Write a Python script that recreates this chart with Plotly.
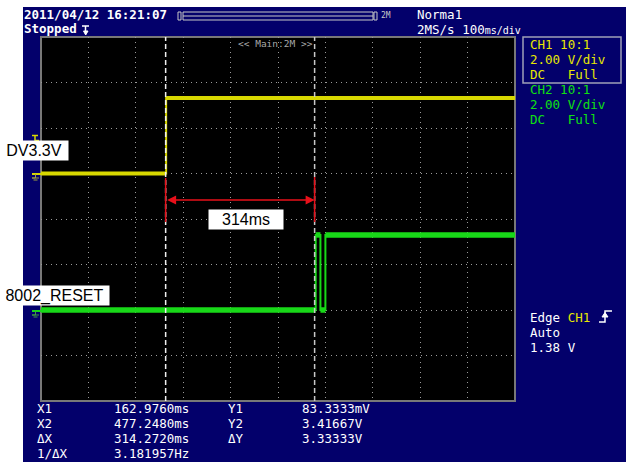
import plotly.graph_objects as go

# canvas / screen geometry (pixels)
W, H = 626, 464
L, R, T, B = 41, 515, 37, 401

MONO = "DejaVu Sans Mono"
BLUE = "#03006b"
YEL_TXT = "#e8e800"
GRN_TXT = "#10e010"
YEL = "#d8d800"
GRN = "#18d818"
RED = "#e8101a"
NB = "\u00a0"

# waveforms (time in ms, level in V)
ch1_t = [-100, 164, 164, 900]
ch1_v = [0.0, 0.0, 3.32, 3.32]
ch2_t = [-100, 479.5, 479.5, 489.5, 489.5, 500, 500, 900]
ch2_v = [0.0, 0.0, 3.3, 3.3, 0.0, 0.0, 3.3, 3.3]

x1_ms = 162.976
x2_ms = 477.248

cursor_labels = ["X1", "X2", "ΔX", "1/ΔX"]
cursor_values = ["162.9760ms", "477.2480ms", "314.2720ms", "3.181957Hz"]
y_labels = ["Y1", "Y2", "ΔY"]
y_values = ["83.3333mV", "3.41667V", "3.33333V"]

ch1_info = ["CH1 10:1", "2.00 V/div", "DC" + NB * 3 + "Full"]
ch2_info = ["CH2 10:1", "2.00 V/div", "DC" + NB * 3 + "Full"]
trig_info = ["Edge <span style='color:%s'>CH1</span>" % YEL_TXT, "Auto", "1.38 V"]


def px(x):
    return (x - L) / (R - L)


def py(y):
    return (B - y) / (B - T)


def path(points, close=False):
    s = "M" + " L".join("%.5f,%.5f" % (px(a), py(b)) for a, b in points)
    return s + (" Z" if close else "")


def txt(x, y, s, color="white", size=12.5, family=MONO, anchor="left"):
    return dict(x=px(x), y=py(y), xref="paper", yref="paper", text=s,
                showarrow=False, xanchor=anchor, yanchor="middle", borderpad=0,
                font=dict(family=family, size=size, color=color))


def levels(t, v):
    # keep only the flat parts of a waveform (thick noise band), break at edges
    xs, ys = [], []
    for i in range(len(t) - 1):
        if t[i] != t[i + 1]:
            xs += [t[i], t[i + 1], None]
            ys += [v[i], v[i + 1], None]
    return xs, ys


fig = go.Figure()
for t, v, col, w, ax in [(ch1_t, ch1_v, YEL, 4, "y"), (ch2_t, ch2_v, GRN, 5.5, "y2")]:
    lx, ly = levels(t, v)
    fig.add_trace(go.Scatter(x=lx, y=ly, mode="lines", line=dict(color=col, width=w),
                             yaxis=ax, hoverinfo="skip", showlegend=False))
    fig.add_trace(go.Scatter(x=t, y=v, mode="lines", line=dict(color=col, width=2),
                             yaxis=ax, hoverinfo="skip", showlegend=False))

shapes = [
    # blue screen and black grid area
    dict(type="rect", xref="paper", yref="paper", x0=px(23), x1=px(W + 2), y0=py(7), y1=py(462),
         fillcolor=BLUE, line=dict(width=0), layer="below"),
    dict(type="rect", xref="paper", yref="paper", x0=0, x1=1, y0=0, y1=1,
         fillcolor="black", line=dict(color="#787878", width=2), layer="below"),
    # record length bar
    dict(type="rect", xref="paper", yref="paper", x0=px(183), x1=px(373), y0=py(12), y1=py(20),
         line=dict(color="#c8c8c8", width=1)),
    dict(type="line", xref="paper", yref="paper", x0=px(183), x1=px(373), y0=py(16), y1=py(16),
         line=dict(color="#c8c8c8", width=1)),
    dict(type="rect", xref="paper", yref="paper", x0=px(178), x1=px(181), y0=py(12), y1=py(20),
         line=dict(color="#c8c8c8", width=1)),
    dict(type="rect", xref="paper", yref="paper", x0=px(374), x1=px(377), y0=py(12), y1=py(20),
         line=dict(color="#c8c8c8", width=1)),
    # "stopped" trigger glyph
    dict(type="path", xref="paper", yref="paper", path=path([(82, 26), (89, 26)]),
         line=dict(color="white", width=1.5)),
    dict(type="path", xref="paper", yref="paper", path=path([(85.5, 26), (85.5, 32)]),
         line=dict(color="white", width=1.5)),
    dict(type="path", xref="paper", yref="paper", path=path([(83.5, 31), (88, 31), (85.7, 35)], True),
         fillcolor="white", line=dict(color="white", width=1)),
    # channel info box
    dict(type="rect", xref="paper", yref="paper", x0=px(523), x1=px(621), y0=py(37), y1=py(83),
         line=dict(color="#a0a0b8", width=1.5)),
    # trigger edge glyph
    dict(type="path", xref="paper", yref="paper", path=path([(599, 322), (605, 322), (605, 311), (612, 311)]),
         line=dict(color="white", width=1.5)),
    dict(type="path", xref="paper", yref="paper", path=path([(602, 317), (605, 312.5), (608, 317)], True),
         fillcolor="white", line=dict(color="white", width=1)),
    # ground markers and trigger level marker
    dict(type="path", xref="paper", yref="paper", path=path([(32, 174), (41, 174)]),
         line=dict(color=YEL, width=2)),
    dict(type="path", xref="paper", yref="paper", path=path([(35.5, 174), (35.5, 178), (32, 178), (39, 178)]),
         line=dict(color="#a0a040", width=1)),
    dict(type="path", xref="paper", yref="paper", path=path([(33.5, 180), (37.5, 180)]),
         line=dict(color="#a0a040", width=1)),
    dict(type="path", xref="paper", yref="paper", path=path([(32, 135.5), (38, 135.5)]),
         line=dict(color=YEL, width=1.5)),
    dict(type="path", xref="paper", yref="paper", path=path([(35, 135.5), (35, 140.5), (39, 140.5)]),
         line=dict(color=YEL, width=1.5)),
    dict(type="path", xref="paper", yref="paper", path=path([(32, 311), (41, 311)]),
         line=dict(color=GRN, width=2)),
    dict(type="path", xref="paper", yref="paper", path=path([(35.5, 311), (35.5, 315), (32, 315), (39, 315)]),
         line=dict(color="#40a040", width=1)),
    dict(type="path", xref="paper", yref="paper", path=path([(33.5, 317), (37.5, 317)]),
         line=dict(color="#40a040", width=1)),
    # cursors
    dict(type="line", xref="x", yref="paper", x0=x1_ms, x1=x1_ms, y0=0, y1=1,
         line=dict(color="#f0f0f0", width=1.5, dash="5px,3px"), layer="above"),
    dict(type="line", xref="x", yref="paper", x0=x2_ms, x1=x2_ms, y0=0, y1=1,
         line=dict(color="#c8c8c8", width=1.5, dash="5px,3px"), layer="above"),
    # red measurement overlay
    dict(type="line", xref="x", yref="paper", x0=x1_ms, x1=x1_ms, y0=py(178), y1=py(222),
         line=dict(color=RED, width=1.5), layer="above"),
    dict(type="line", xref="x", yref="paper", x0=x2_ms, x1=x2_ms, y0=py(177), y1=py(222),
         line=dict(color=RED, width=1.5), layer="above"),
]

ann = [
    txt(23, 14.5, "<b>2011/04/12 16:21:07</b>"),
    txt(23, 28, "<b>Stopped</b>"),
    txt(380, 15.5, "2M", color="#c8c8c8", size=8),
    txt(416, 14, "Norma1"),
    txt(416, 29, "2MS/s 100<span style='font-size:10px'>ms/div</span>"),
    txt(237, 43.5, "&lt;&lt; Main:2M &gt;&gt;", color="#a8a8a8", size=9.5),
]
for i, s in enumerate(ch1_info):
    ann.append(txt(529, 44 + 15 * i, s, color=YEL_TXT))
for i, s in enumerate(ch2_info):
    ann.append(txt(529, 89.3 + 15 * i, s, color=GRN_TXT))
for i, s in enumerate(trig_info):
    ann.append(txt(529, 317 + 15 * i, s))
for i, (a, b) in enumerate(zip(cursor_labels, cursor_values)):
    ann.append(txt(36, 408.3 + 15 * i, a))
    ann.append(txt(113, 408.3 + 15 * i, b))
for i, (a, b) in enumerate(zip(y_labels, y_values)):
    ann.append(txt(227, 408.3 + 15 * i, a))
    ann.append(txt(301, 408.3 + 15 * i, b))

# double-headed red arrow between the cursors
ann.append(dict(x=x2_ms, y=py(200), xref="x", yref="paper", ax=x1_ms, ay=0, axref="x", ayref="pixel",
                text="", showarrow=True, arrowhead=2, startarrowhead=2, arrowside="end+start",
                arrowsize=1.2, startarrowsize=1.2, arrowwidth=1.5, arrowcolor=RED))
# labels pasted on the screenshot
for cx, cy, w, s in [(246, 219.5, 74, "314ms"), (34, 150, 68, "DV3.3V"), (54.5, 295, 109, "8002_RESET")]:
    ann.append(dict(x=px(cx), y=py(cy), xref="paper", yref="paper", text=s, showarrow=False,
                    xanchor="center", yanchor="middle", width=w, height=19, bgcolor="white",
                    borderpad=0, font=dict(family="Liberation Sans, Arial", size=16, color="black")))

grid = dict(showgrid=True, gridcolor="#9a9a9a", gridwidth=1, griddash="1px,4px",
            zeroline=False, showticklabels=False, ticks="", showline=False, fixedrange=True)

fig.update_layout(
    width=W, height=H,
    margin=dict(l=L, r=W - R, t=T, b=H - B, pad=0),
    paper_bgcolor="white", plot_bgcolor="black",
    xaxis=dict(range=[-100, 900], tick0=-100, dtick=100, **grid),
    yaxis=dict(range=[-10, 6], tick0=-10, dtick=2, **grid),
    yaxis2=dict(range=[-4, 12], overlaying="y", visible=False, fixedrange=True),
    shapes=shapes, annotations=ann, showlegend=False,
)

fig.write_html("out.html", config={"displayModeBar": False},
               post_script="document.body.style.margin='0';document.body.style.overflow='hidden';")
